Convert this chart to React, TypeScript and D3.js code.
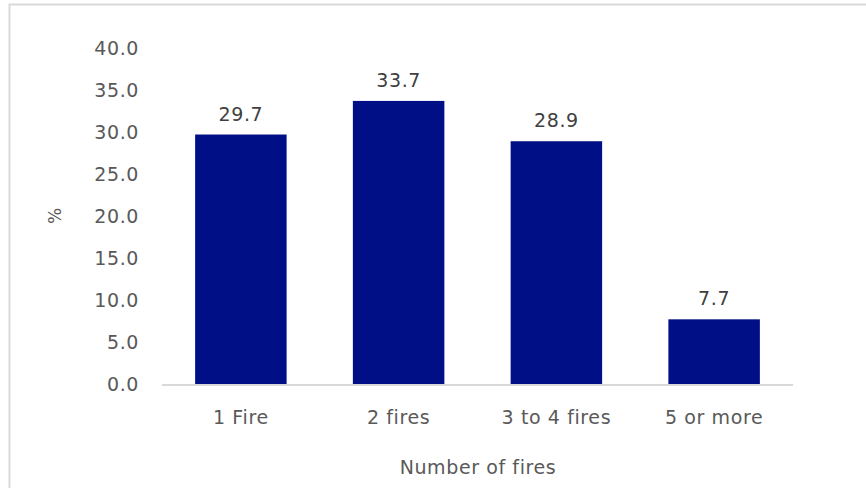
import { useEffect, useRef } from "react";
import * as d3 from "d3";

const categories = ["1 Fire", "2 fires", "3 to 4 fires", "5 or more"];
const values = [29.7, 33.7, 28.9, 7.7];
const yTicks = [0, 5, 10, 15, 20, 25, 30, 35, 40];

export default function App() {
  const ref = useRef<SVGSVGElement | null>(null);

  useEffect(() => {
    document.body.style.margin = "0";
    if (!ref.current) return;

    const width = 866;
    const height = 488;
    const margin = { top: 48, right: 73, bottom: 104, left: 162 };
    const font = "'DejaVu Sans', sans-serif";
    const textColor = "#595959";
    const spacing = "0.6px";

    const svg = d3.select(ref.current).attr("viewBox", `0 0 ${width} ${height}`);
    svg.selectAll("*").remove();

    svg.append("rect")
      .attr("x", 9.5)
      .attr("y", 4.5)
      .attr("width", width + 20)
      .attr("height", height + 20)
      .attr("fill", "#fff")
      .attr("stroke", "#d9d9d9")
      .attr("stroke-width", 2);

    const x = d3.scaleBand()
      .domain(categories)
      .range([margin.left, width - margin.right])
      .paddingInner(0.42)
      .paddingOuter(0.21);

    const y = d3.scaleLinear()
      .domain([0, 40])
      .range([height - margin.bottom, margin.top]);

    /* ---------------- Y LABELS ---------------- */

    svg.selectAll(".ytick")
      .data(yTicks)
      .enter()
      .append("text")
      .attr("x", 139)
      .attr("y", d => y(d))
      .attr("dy", "0.35em")
      .attr("text-anchor", "end")
      .attr("font-family", font)
      .attr("font-size", 19)
      .attr("letter-spacing", spacing)
      .attr("fill", textColor)
      .text(d => d.toFixed(1));

    /* ---------------- BARS ---------------- */

    svg.selectAll(".bar")
      .data(values)
      .enter()
      .append("rect")
      .attr("x", (_, i) => x(categories[i])!)
      .attr("y", d => y(d))
      .attr("width", x.bandwidth())
      .attr("height", d => y(0) - y(d))
      .attr("fill", "#000f86");

    svg.selectAll(".val")
      .data(values)
      .enter()
      .append("text")
      .attr("x", (_, i) => x(categories[i])! + x.bandwidth() / 2)
      .attr("y", d => y(d) - 14)
      .attr("text-anchor", "middle")
      .attr("font-family", font)
      .attr("font-size", 19)
      .attr("letter-spacing", spacing)
      .attr("fill", "#404040")
      .text(d => d.toFixed(1));

    /* ---------------- X AXIS ---------------- */

    svg.append("line")
      .attr("x1", margin.left)
      .attr("x2", width - margin.right)
      .attr("y1", y(0) + 1)
      .attr("y2", y(0) + 1)
      .attr("stroke", "#d9d9d9")
      .attr("stroke-width", 2);

    svg.selectAll(".xtick")
      .data(categories)
      .enter()
      .append("text")
      .attr("x", d => x(d)! + x.bandwidth() / 2)
      .attr("y", 424)
      .attr("text-anchor", "middle")
      .attr("font-family", font)
      .attr("font-size", 19)
      .attr("letter-spacing", spacing)
      .attr("fill", textColor)
      .text(d => d);

    svg.append("text")
      .attr("x", 478)
      .attr("y", 474)
      .attr("text-anchor", "middle")
      .attr("font-family", font)
      .attr("font-size", 19)
      .attr("letter-spacing", spacing)
      .attr("fill", textColor)
      .text("Number of fires");

    svg.append("text")
      .attr("transform", `translate(61, 216) rotate(-90)`)
      .attr("text-anchor", "middle")
      .attr("font-family", font)
      .attr("font-size", 17)
      .attr("fill", textColor)
      .text("%");
  }, []);

  return (
    <svg
      ref={ref}
      style={{ display: "block", width: "866px", height: "488px" }}
    />
  );
}
